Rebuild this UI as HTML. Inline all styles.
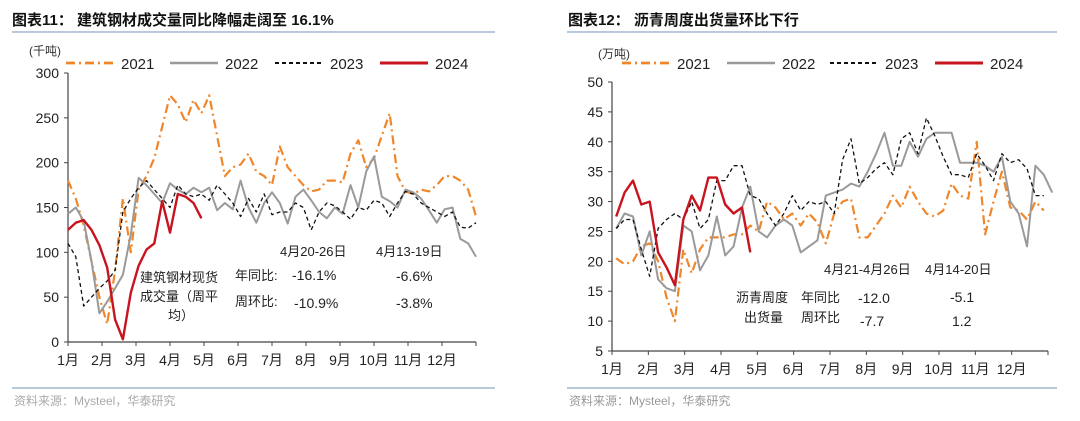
<!DOCTYPE html>
<html><head><meta charset="utf-8">
<style>
body{margin:0;background:#fff;width:1080px;height:416px;overflow:hidden}
svg{font-family:"Liberation Sans","Noto Sans CJK SC",sans-serif}
</style></head><body>
<svg id="s" width="1080" height="416" xmlns="http://www.w3.org/2000/svg">
<g>
<text x="12" y="25" font-size="15" font-weight="bold" fill="#111">图表11：  建筑钢材成交量同比降幅走阔至 16.1%</text>
<line x1="12" y1="32" x2="495" y2="32" stroke="#8fa9c6" stroke-width="1.2"/>
<line x1="12" y1="388" x2="495" y2="388" stroke="#8fa9c6" stroke-width="1.2"/>
<text x="14" y="405" font-size="12" fill="#aaa">资料来源：Mysteel，华泰研究</text>
</g>
<g>
<text x="568" y="25" font-size="15" font-weight="bold" fill="#111">图表12：  沥青周度出货量环比下行</text>
<line x1="567" y1="32" x2="1057" y2="32" stroke="#8fa9c6" stroke-width="1.2"/>
<line x1="567" y1="388" x2="1057" y2="388" stroke="#8fa9c6" stroke-width="1.2"/>
<text x="569" y="405" font-size="12" fill="#999">资料来源：Mysteel，华泰研究</text>
</g>
</svg>
<script>
// Left chart data (千吨)
const leftMonths=["1月","2月","3月","4月","5月","6月","7月","8月","9月","10月","11月","12月"];
const leftTicks=[0,50,100,150,200,250,300];
const left2021=[180,160,130,90,50,20,80,160,100,170,185,205,240,275,265,245,270,255,275,230,185,195,198,210,190,185,175,218,195,185,175,168,170,180,180,178,210,225,195,205,230,255,185,168,165,170,168,175,185,185,180,170,140];
const left2022=[143,150,135,90,32,45,60,75,120,183,175,165,155,177,170,165,172,167,172,147,155,148,180,150,133,155,167,155,132,162,170,158,145,138,150,143,175,150,190,207,162,157,150,170,167,160,147,133,148,150,115,110,95];
const left2023=[110,95,40,50,60,68,80,145,160,172,180,170,160,150,175,165,162,165,158,175,165,155,140,160,145,165,142,145,145,155,150,125,145,155,152,145,137,150,147,158,155,140,155,168,165,155,150,145,140,145,128,127,133];
const left2024=[125,133,136,125,108,83,25,3,55,85,103,110,157,122,165,162,155,138];
// Right chart data (万吨)
const rightMonths=["1月","2月","3月","4月","5月","6月","7月","8月","9月","10月","11月","12月"];
const rightTicks=[5,10,15,20,25,30,35,40,45,50];
const right2021=[20.5,19.5,20,22.5,23,20,14,10,22,18,22,24,24,24,24.5,24.5,26,25,30,29,27,28,26,28,26.5,23,28,30,30.5,24,24,26,28,31,29,32.5,30,28,27.5,28.5,33,31,30.5,40,24.5,30,35,29,28.5,27,30,28.5];
const right2022=[25.5,28,27.5,21,25,17,15.5,15,26,25,18.5,21,27.5,21,22.5,29,32.5,25,24,26,27,26,21.5,22.5,23.5,31,31.5,32,33,32.5,35,38,41.5,36,36,40,37.5,40.5,41.5,41.5,41.5,36.5,36.5,36.5,36,35,37.5,30,28,22.5,36,34.5,31.5];
const right2023=[25.5,27,27,22,17.5,25.5,27,28,27,30,25.5,27,33.5,33.5,36,36,31,30.5,28,26,28,31,28.5,30,29.5,30,28,37,40.5,33,34,35.5,36.5,34.5,40.5,41.5,38,44,41,37.5,34.5,34.5,34,38,36,33.5,38,36.5,37,35.5,31,31];
const right2024=[27.5,31.5,33.5,29.5,30,21.5,19,16,27,31,28.5,34,34,29.5,28,29,21.5];

const NS="http://www.w3.org/2000/svg";
const svg=document.getElementById('s');
function mk(tag,attrs,parent){const e=document.createElementNS(NS,tag);for(const k in attrs)e.setAttribute(k,attrs[k]);(parent||svg).appendChild(e);return e;}
function txt(x,y,s,size,anchor,fill,parent){const t=mk('text',{x:x,y:y,'font-size':size,'text-anchor':anchor||'start',fill:fill||'#222'},parent);t.textContent=s;return t;}

const styles={
 s2021:{stroke:'#f0862a','stroke-width':2.2,'stroke-dasharray':'9,4,2,4'},
 s2022:{stroke:'#9a9a9a','stroke-width':2},
 s2023:{stroke:'#111','stroke-width':1.3,'stroke-dasharray':'4,3'},
 s2024:{stroke:'#c8141e','stroke-width':2.4}
};

function chart(cfg){
 const g=mk('g',{});
 
 
 const ymin=cfg.ticks[0],ymax=cfg.ticks[cfg.ticks.length-1];
 const yS=v=>cfg.y1-(v-ymin)/(ymax-ymin)*(cfg.y1-cfg.y0);
 const step=(cfg.x1-cfg.x0)/cfg.weeks;
 const xS=i=>cfg.x0+cfg.off*step+i*step;
 // axes
 const ax=mk('g',{},g);
 
 
 mk('line',{x1:cfg.x0,y1:cfg.y0,x2:cfg.x0,y2:cfg.y1,stroke:'#444','stroke-width':1.2},ax);
 mk('line',{x1:cfg.x0,y1:cfg.y1,x2:cfg.x1,y2:cfg.y1,stroke:'#444','stroke-width':1.2},ax);
 cfg.ticks.forEach(v=>{
  mk('line',{x1:cfg.x0-4,y1:yS(v),x2:cfg.x0,y2:yS(v),stroke:'#444'},ax);
  const t=txt(cfg.x0-9,yS(v)+5,String(v),14,'end','#222',ax);
  
  
 });
 const mw=(cfg.x1-cfg.x0)/12;
 cfg.months.forEach((m,i)=>{
  const x=cfg.x0+i*mw;
  mk('line',{x1:x,y1:cfg.y1,x2:x,y2:cfg.y1+4,stroke:'#444'},ax);
  const t=txt(x,cfg.y1+23,m,14,'middle','#222',ax);
  
  
 });
 mk('line',{x1:cfg.x1,y1:cfg.y1,x2:cfg.x1,y2:cfg.y1+4,stroke:'#444'},ax);
 // series
 const series=[['2021',cfg.d2021,styles.s2021],['2022',cfg.d2022,styles.s2022],['2023',cfg.d2023,styles.s2023],['2024',cfg.d2024,styles.s2024]];
 series.forEach(([nm,d,st])=>{
  const pts=d.map((v,i)=>xS(i).toFixed(1)+','+yS(v).toFixed(1)).join(' ');
  const a=Object.assign({points:pts,fill:'none','stroke-linejoin':'round'},st);
  const p=mk('polyline',a,g);
  
  
 });
 // legend
 series.forEach(([nm,d,st],i)=>{
  const lx=cfg.legX[i];
  const lg=mk('g',{},g);
  
  
  mk('line',Object.assign({x1:lx,y1:cfg.legY,x2:lx+48,y2:cfg.legY},st,{'stroke-width':st['stroke-width']+0.6}),lg);
  txt(lx+55,cfg.legY+6,nm,15,'start','#222',lg);
 });
 const u=txt(cfg.unitX,cfg.unitY,cfg.unit,12,'start','#333',g);
 
 
 return g;
}

chart({name:'left-chart',x0:68,x1:476,y0:73,y1:342,weeks:52,off:0,ticks:leftTicks,months:leftMonths,
 d2021:left2021,d2022:left2022,d2023:left2023,d2024:left2024,legX:[66,170,275,380],legY:63,unit:'(千吨)',unitX:29,unitY:55});
chart({name:'right-chart',x0:612,x1:1048,y0:82,y1:351,weeks:52,off:0.5,ticks:rightTicks,months:rightMonths,
 d2021:right2021,d2022:right2022,d2023:right2023,d2024:right2024,legX:[622,727,830,935],legY:63,unit:'(万吨)',unitX:598,unitY:58});

// annotations
const an=[
 [280,256,'4月20-26日',13],[376,256,'4月13-19日',13],
 [235,280,'年同比:',13],[292,280,'-16.1%',14],[396,281,'-6.6%',14],
 [235,306,'周环比:',13],[294,308,'-10.9%',14],[396,308,'-3.8%',14],
 [140,282,'建筑钢材现货',13],[140,301,'成交量（周平',13],[168,320,'均）',13],
 [824,274,'4月21-4月26日',13],[925,274,'4月14-20日',13],
 [736,302,'沥青周度',13],[744,322,'出货量',13],[801,302,'年同比',13],[801,322,'周环比',13],
 [858,303,'-12.0',14],[950,302,'-5.1',14],[860,326,'-7.7',14],[952,326,'1.2',14]
];
an.forEach(a=>{
 const t=txt(a[0],a[1],a[2],a[3],'start','#222');
 
 
});
</script>
</body></html>
